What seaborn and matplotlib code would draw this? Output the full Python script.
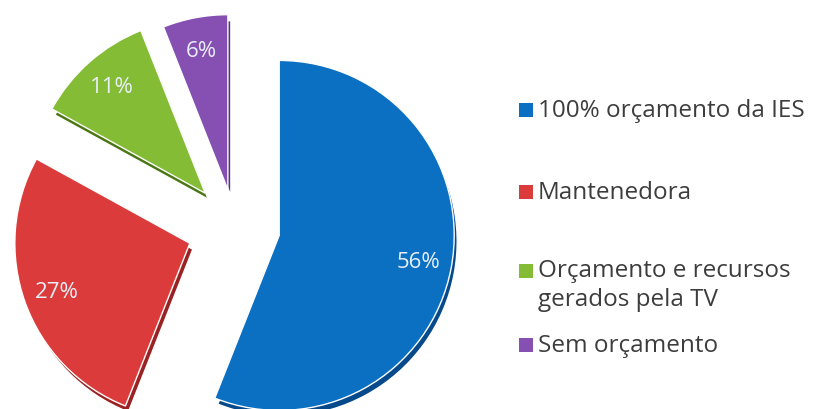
import matplotlib
matplotlib.use("Agg")
import matplotlib.pyplot as plt
import seaborn as sns

# dados
categorias = ["100% orçamento da IES", "Mantenedora",
              "Orçamento e recursos\ngerados pela TV", "Sem orçamento"]
percentuais = [56, 27, 11, 6]

cores = ["#0b6fc2", "#dc3b3b", "#84bd35", "#8650b2"]
cores_lado = ["#064a8c", "#9a2222", "#4a7614", "#55307f"]

sns.set_theme(style="white")
plt.rcParams["font.family"] = ["Open Sans", "DejaVu Sans"]

fig = plt.figure(figsize=(8.14, 4.10), dpi=100)
ax = fig.add_axes([0, 0, 1, 1])

centro = (235, 182)
raio = 175
afastamento = [45, 48, 45, 38]

# lateral escura (efeito 3D)
ax.pie(percentuais, explode=afastamento, colors=cores_lado, startangle=90,
       counterclock=False, center=(centro[0] + 3, centro[1] - 6), radius=raio,
       frame=True)

# fatias
wedges, textos, pcts = ax.pie(
    percentuais, explode=afastamento, colors=cores, startangle=90,
    counterclock=False, center=centro, radius=raio, frame=True,
    autopct=lambda p: "{:.0f}%".format(p), pctdistance=0.81,
    textprops=dict(color="#e8eff8", fontsize=16))

ax.set_xlim(0, 814)
ax.set_ylim(0, 410)
ax.axis("off")

# legenda
legenda_y = [111, 193, 272, 346]
for cat, cor, yy in zip(categorias, cores, legenda_y):
    ax.scatter(526, 410 - yy, marker="s", s=88, color=cor, edgecolor="none")
    if "\n" in cat:
        ax.text(538, 410 - yy + 13, cat, fontsize=17.5, color="#3d3d3d",
                va="top", linespacing=1.25)
    else:
        ax.text(538, 410 - yy, cat, fontsize=17.5, color="#3d3d3d",
                va="center")

fig.savefig("out.png", dpi=100)
